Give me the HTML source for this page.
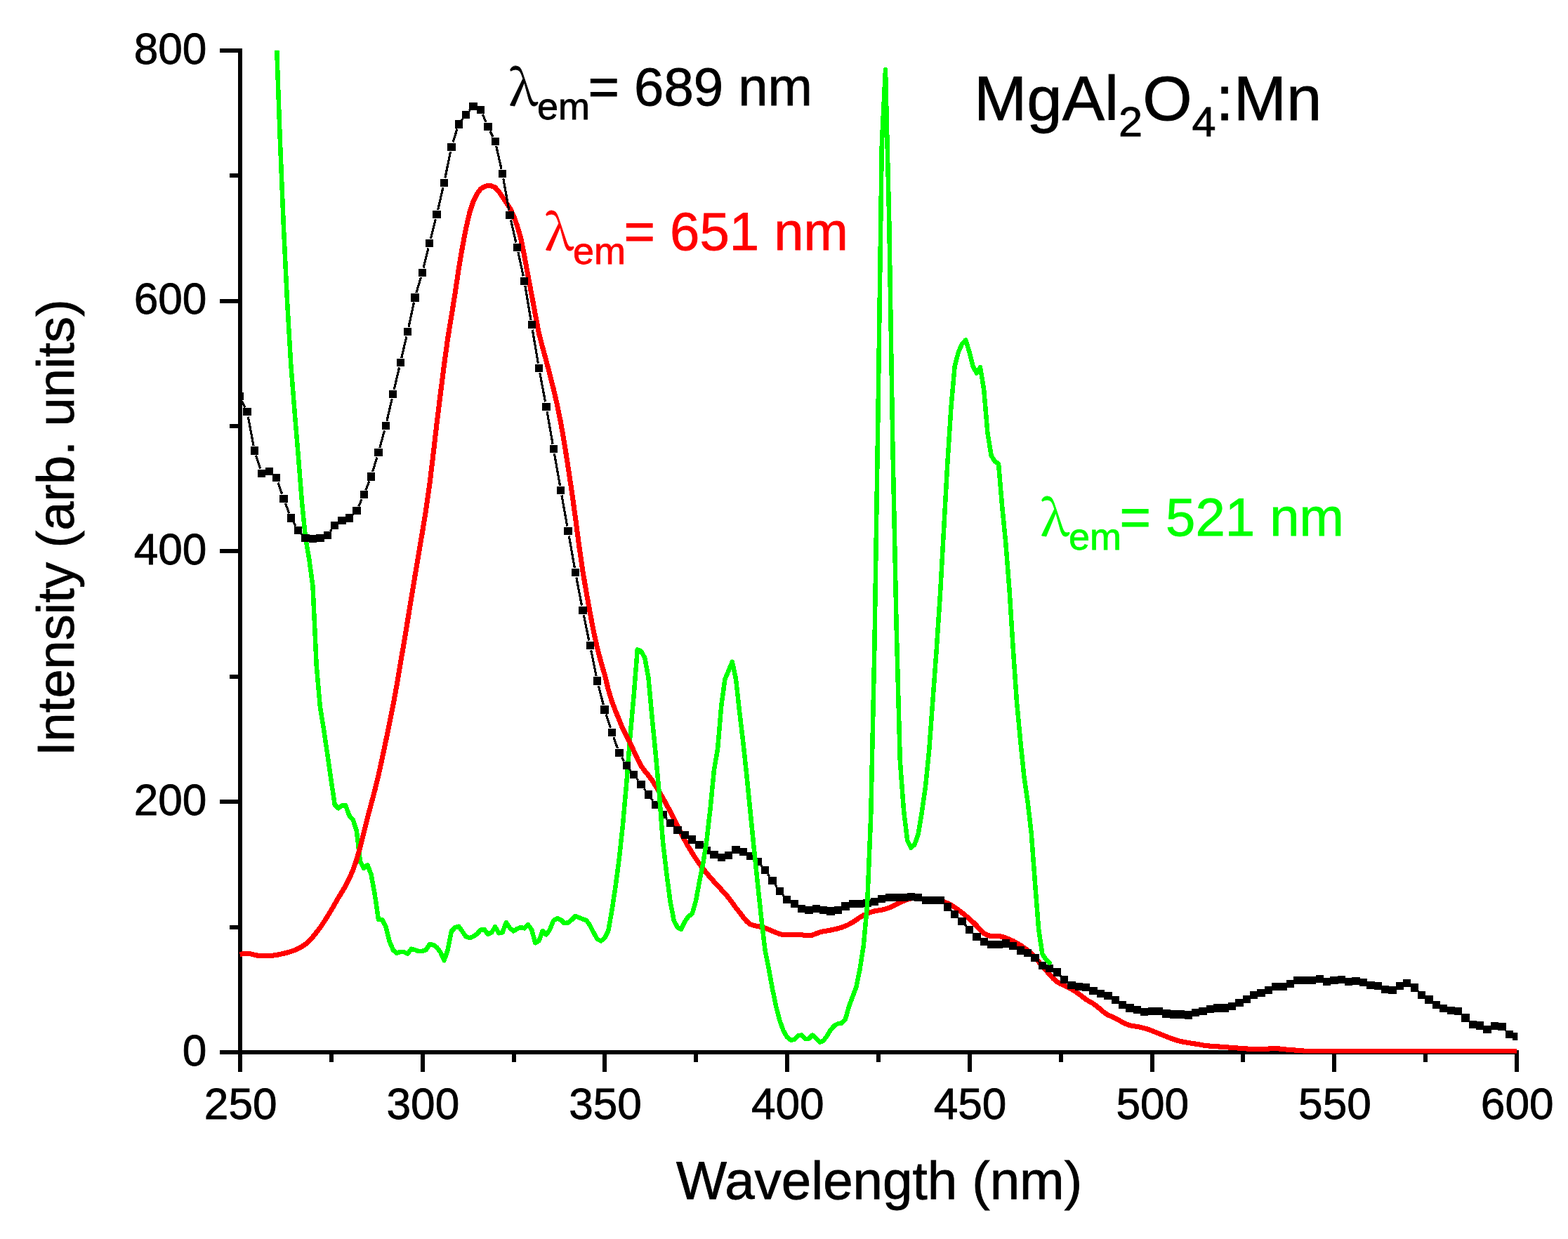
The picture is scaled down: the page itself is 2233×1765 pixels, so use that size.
<!DOCTYPE html>
<html lang="en"><head><meta charset="utf-8"><title>MgAl2O4:Mn excitation spectra</title>
<style>
html,body{margin:0;padding:0;background:#fff;}
body{width:2233px;height:1765px;overflow:hidden;}
svg{display:block;font-family:"Liberation Sans",Arial,sans-serif;}
</style></head><body>
<svg width="2233" height="1765" viewBox="0 0 2233 1765">
<rect width="2233" height="1765" fill="#fff"/>
<defs><clipPath id="plot"><rect x="339" y="71.8" width="1822.3" height="1428.8"/></clipPath></defs>
<g fill="#000" shape-rendering="crispEdges"><rect x="339" y="69" width="6" height="1458"/><rect x="313" y="1496" width="1850" height="6"/><rect x="313" y="1496" width="32" height="6"/><rect x="327" y="1318" width="18" height="6"/><rect x="313" y="1139" width="32" height="6"/><rect x="327" y="961" width="18" height="6"/><rect x="313" y="782" width="32" height="6"/><rect x="327" y="604" width="18" height="6"/><rect x="313" y="426" width="32" height="6"/><rect x="327" y="247" width="18" height="6"/><rect x="313" y="69" width="32" height="6"/><rect x="339" y="1496" width="6" height="31"/><rect x="469" y="1496" width="6" height="17"/><rect x="599" y="1496" width="6" height="31"/><rect x="729" y="1496" width="6" height="17"/><rect x="858" y="1496" width="6" height="31"/><rect x="988" y="1496" width="6" height="17"/><rect x="1118" y="1496" width="6" height="31"/><rect x="1248" y="1496" width="6" height="17"/><rect x="1378" y="1496" width="6" height="31"/><rect x="1508" y="1496" width="6" height="17"/><rect x="1638" y="1496" width="6" height="31"/><rect x="1767" y="1496" width="6" height="17"/><rect x="1897" y="1496" width="6" height="31"/><rect x="2027" y="1496" width="6" height="17"/><rect x="2157" y="1496" width="6" height="31"/></g>
<g clip-path="url(#plot)" fill="none" stroke-linejoin="round" stroke-linecap="butt" shape-rendering="crispEdges">
<path d="M389.3,-40.0 L394.0,65.0 L398.7,196.5 L403.9,323.1 L409.1,430.7 L414.3,519.3 L419.5,585.5 L424.7,648.2 L429.9,714.1 L435.1,766.5 L440.3,796.7 L445.5,835.4 L450.7,947.9 L455.9,1007.2 L461.1,1039.3 L466.3,1074.7 L471.5,1110.7 L476.7,1146.3 L481.8,1151.3 L487.0,1147.4 L492.2,1147.3 L497.4,1161.9 L502.6,1167.4 L507.8,1183.4 L513.0,1227.3 L518.2,1236.9 L523.4,1232.2 L528.6,1245.8 L533.8,1274.6 L539.0,1310.0 L544.2,1310.0 L549.4,1319.8 L554.6,1340.7 L559.8,1353.3 L565.0,1358.0 L570.1,1355.9 L575.3,1356.1 L580.5,1358.6 L585.7,1351.7 L590.9,1353.1 L596.1,1355.1 L601.3,1354.9 L606.5,1353.3 L611.7,1345.4 L616.9,1345.9 L622.1,1349.6 L627.3,1356.6 L632.5,1368.2 L637.7,1352.9 L642.9,1326.6 L648.1,1321.3 L653.3,1319.7 L658.5,1327.0 L663.6,1334.3 L668.8,1336.2 L674.0,1334.1 L679.2,1330.6 L684.4,1324.8 L689.6,1323.9 L694.8,1330.8 L700.0,1328.5 L705.2,1320.3 L710.4,1329.3 L715.6,1328.2 L720.8,1314.1 L726.0,1321.8 L731.2,1326.4 L736.4,1323.1 L741.6,1321.1 L746.8,1322.4 L751.9,1317.2 L757.1,1324.1 L762.3,1343.3 L767.5,1340.3 L772.7,1326.1 L777.9,1331.5 L783.1,1324.2 L788.3,1311.2 L793.5,1308.2 L798.7,1310.3 L803.9,1315.3 L809.1,1314.3 L814.3,1310.2 L819.5,1305.0 L824.7,1307.2 L829.9,1309.4 L835.1,1311.1 L840.3,1318.4 L845.4,1328.6 L850.6,1337.7 L855.8,1340.5 L861.0,1336.4 L866.2,1326.4 L871.4,1297.1 L876.6,1262.5 L881.8,1223.2 L887.0,1174.5 L892.2,1116.2 L897.4,1049.4 L902.6,990.9 L907.8,925.3" stroke="#00ff00" stroke-width="6.5"/>
<path d="M341.6,1359.5 L346.8,1358.5 L352.0,1358.1 L357.2,1358.9 L362.4,1360.3 L367.6,1361.3 L372.8,1361.4 L378.0,1361.4 L383.2,1361.4 L388.3,1361.2 L393.5,1360.5 L398.7,1359.5 L403.9,1358.3 L409.1,1357.0 L414.3,1355.5 L419.5,1353.6 L424.7,1351.2 L429.9,1348.4 L435.1,1345.0 L440.3,1340.4 L445.5,1334.6 L450.7,1328.2 L455.9,1321.4 L461.1,1313.7 L466.3,1305.4 L471.5,1296.9 L476.7,1287.9 L481.8,1279.0 L487.0,1270.6 L492.2,1261.8 L497.4,1251.6 L502.6,1239.6 L507.8,1224.8 L513.0,1206.7 L518.2,1185.7 L523.4,1164.7 L528.6,1145.4 L533.8,1125.9 L539.0,1104.4 L544.2,1080.7 L549.4,1056.0 L554.6,1030.8 L559.8,1004.7 L565.0,976.4 L570.1,946.2 L575.3,915.5 L580.5,884.2 L585.7,852.6 L590.9,820.8 L596.1,789.7 L601.3,759.3 L606.5,727.3 L611.7,691.0 L616.9,647.8 L622.1,602.8 L627.3,560.8 L632.5,519.7 L637.7,482.0 L642.9,450.1 L648.1,417.9 L653.3,382.5 L658.5,352.1 L663.6,325.4 L668.8,302.8 L674.0,286.9 L679.2,276.3 L684.4,269.3 L689.6,265.9 L694.8,264.3 L700.0,264.9 L705.2,267.1 L710.4,272.9 L715.6,280.6 L720.8,288.4 L726.0,296.2 L731.2,307.0 L736.4,321.3 L741.6,338.9 L746.8,364.8 L751.9,392.5 L757.1,419.8 L762.3,447.8 L767.5,474.9 L772.7,494.9 L777.9,514.0 L783.1,533.6 L788.3,554.3 L793.5,576.9 L798.7,602.5 L803.9,632.5 L809.1,665.7 L814.3,700.4 L819.5,737.9 L824.7,777.8 L829.9,813.6 L835.1,844.2 L840.3,873.1 L845.4,899.6 L850.6,923.1 L855.8,943.0 L861.0,960.6 L866.2,981.9 L871.4,999.3 L876.6,1012.8 L881.8,1025.6 L887.0,1038.1 L892.2,1048.1 L897.4,1058.3 L902.6,1069.7 L907.8,1081.1 L913.0,1090.9 L918.2,1098.3 L923.4,1104.5 L928.6,1111.5 L933.7,1119.5 L938.9,1128.1 L944.1,1137.0 L949.3,1146.4 L954.5,1156.1 L959.7,1166.1 L964.9,1176.7 L970.1,1187.3 L975.3,1197.2 L980.5,1206.4 L985.7,1215.0 L990.9,1223.2 L996.1,1230.7 L1001.3,1237.6 L1006.5,1244.1 L1011.7,1250.1 L1016.9,1256.0 L1022.1,1261.7 L1027.2,1267.2 L1032.4,1272.8 L1037.6,1278.9 L1042.8,1285.9 L1048.0,1293.1 L1053.2,1299.7 L1058.4,1306.5 L1063.6,1312.7 L1068.8,1316.8 L1074.0,1318.5 L1079.2,1319.6 L1084.4,1320.5 L1089.6,1322.0 L1094.8,1324.1 L1100.0,1326.5 L1105.2,1328.5 L1110.4,1330.5 L1115.5,1331.6 L1120.7,1331.7 L1125.9,1331.7 L1131.1,1331.7 L1136.3,1331.7 L1141.5,1331.8 L1146.7,1332.3 L1151.9,1332.8 L1157.1,1332.0 L1162.3,1330.0 L1167.5,1328.0 L1172.7,1326.8 L1177.9,1325.9 L1183.1,1325.0 L1188.3,1323.9 L1193.5,1322.6 L1198.7,1321.1 L1203.9,1319.2 L1209.0,1316.8 L1214.2,1313.9 L1219.4,1310.4 L1224.6,1306.8 L1229.8,1303.8 L1235.0,1301.3 L1240.2,1299.3 L1245.4,1297.9 L1250.6,1297.0 L1255.8,1296.1 L1261.0,1294.8 L1266.2,1293.1 L1271.4,1291.0 L1276.6,1288.3 L1281.8,1285.8 L1287.0,1283.3 L1292.2,1281.4 L1297.3,1279.9 L1302.5,1279.1 L1307.7,1279.7 L1312.9,1280.9 L1318.1,1281.7 L1323.3,1282.5 L1328.5,1282.9 L1333.7,1283.2 L1338.9,1283.5 L1344.1,1284.7 L1349.3,1286.6 L1354.5,1289.4 L1359.7,1292.7 L1364.9,1296.3 L1370.1,1300.3 L1375.3,1304.5 L1380.5,1309.0 L1385.7,1313.7 L1390.8,1318.8 L1396.0,1324.7 L1401.2,1329.8 L1406.4,1332.4 L1411.6,1333.6 L1416.8,1333.6 L1422.0,1333.6 L1427.2,1334.3 L1432.4,1336.2 L1437.6,1338.3 L1442.8,1340.6 L1448.0,1343.4 L1453.2,1346.5 L1458.4,1350.1 L1463.6,1354.0 L1468.8,1358.6 L1474.0,1364.0 L1479.1,1369.9 L1484.3,1376.0 L1489.5,1382.1 L1494.7,1388.2 L1499.9,1393.9 L1505.1,1398.6 L1510.3,1401.5 L1515.5,1403.8 L1520.7,1406.4 L1525.9,1409.2 L1531.1,1412.3 L1536.3,1415.8 L1541.5,1419.9 L1546.7,1423.8 L1551.9,1426.9 L1557.1,1429.8 L1562.3,1433.7 L1567.5,1438.2 L1572.6,1442.4 L1577.8,1445.8 L1583.0,1448.1 L1588.2,1450.4 L1593.4,1453.3 L1598.6,1456.3 L1603.8,1458.8 L1609.0,1460.8 L1614.2,1461.7 L1619.4,1462.4 L1624.6,1463.5 L1629.8,1464.8 L1635.0,1466.3 L1640.2,1468.3 L1645.4,1470.3 L1650.6,1472.4 L1655.8,1474.5 L1660.9,1476.5 L1666.1,1478.6 L1671.3,1480.5 L1676.5,1482.2 L1681.7,1483.5 L1686.9,1484.6 L1692.1,1485.5 L1697.3,1486.3 L1702.5,1487.1 L1707.7,1487.9 L1712.9,1488.9 L1718.1,1489.7 L1723.3,1490.1 L1728.5,1490.5 L1733.7,1490.9 L1738.9,1491.2 L1744.1,1491.6 L1749.3,1492.0 L1754.4,1492.4 L1759.6,1492.8 L1764.8,1493.2 L1770.0,1493.6 L1775.2,1494.0 L1780.4,1494.2 L1785.6,1494.4 L1790.8,1494.5 L1796.0,1494.5 L1801.2,1494.3 L1806.4,1494.1 L1811.6,1493.3 L1816.8,1493.3 L1822.0,1494.0 L1827.2,1494.6 L1832.4,1495.1 L1837.6,1495.5 L1842.7,1495.9 L1847.9,1496.3 L1853.1,1496.8 L1858.3,1497.2 L1863.5,1497.6 L1868.7,1497.8 L1873.9,1497.8 L1879.1,1497.8 L1884.3,1497.8 L1889.5,1497.8 L1894.7,1497.8 L1899.9,1497.8 L1905.1,1497.8 L1910.3,1497.8 L1915.5,1497.8 L1920.7,1497.8 L1925.9,1497.8 L1931.1,1497.8 L1936.2,1497.8 L1941.4,1497.8 L1946.6,1497.8 L1951.8,1497.8 L1957.0,1497.8 L1962.2,1497.8 L1967.4,1497.8 L1972.6,1497.8 L1977.8,1497.8 L1983.0,1497.8 L1988.2,1497.8 L1993.4,1497.8 L1998.6,1497.8 L2003.8,1497.8 L2009.0,1497.8 L2014.2,1497.8 L2019.4,1497.8 L2024.5,1497.8 L2029.7,1497.8 L2034.9,1497.8 L2040.1,1497.8 L2045.3,1497.8 L2050.5,1497.8 L2055.7,1497.8 L2060.9,1497.8 L2066.1,1497.8 L2071.3,1497.7 L2076.5,1497.3 L2081.7,1497.2 L2086.9,1497.2 L2092.1,1497.2 L2097.3,1497.2 L2102.5,1497.2 L2107.7,1497.2 L2112.9,1497.2 L2118.0,1497.2 L2123.2,1497.2 L2128.4,1497.3 L2133.6,1497.7 L2138.8,1497.8 L2144.0,1497.8 L2149.2,1497.8 L2154.4,1497.8 L2159.6,1497.8" stroke="#ff0000" stroke-width="7.1"/>
<path d="M344.6,571.2 L349.0,580.5 M353.3,593.7 L361.1,635.0 M364.5,648.6 L370.6,667.5 M395.9,687.4 L401.6,703.7 M406.4,716.9 L411.8,731.3 M417.9,743.9 L421.1,749.4 M429.5,760.5 L430.3,761.4 M470.5,756.7 L472.5,754.0 M502.4,732.9 L502.8,732.5 M510.7,721.2 L515.3,711.1 M520.8,698.3 L526.0,685.4 M530.6,672.2 L536.9,651.4 M540.8,637.9 L547.5,613.3 M550.9,599.7 L558.2,568.3 M561.3,554.7 L568.6,523.5 M571.8,509.9 L578.9,479.4 M582.0,465.7 L589.5,430.7 M592.9,417.1 L599.4,395.0 M603.0,381.5 L610.0,353.6 M613.4,340.0 L620.4,312.4 M623.7,298.8 L630.9,267.1 M633.9,253.4 L641.5,216.0 M645.0,202.5 L651.1,183.5 M657.5,171.3 L659.4,168.8 M668.2,157.9 L669.4,156.6 M687.2,162.7 L692.1,174.0 M697.9,186.7 L702.1,195.1 M706.7,208.2 L714.1,240.7 M716.8,254.4 L724.8,299.6 M727.5,313.3 L734.8,345.6 M737.9,359.2 L745.3,393.4 M747.9,407.1 L756.0,455.9 M758.3,469.7 L766.4,517.6 M768.8,531.4 L776.6,572.4 M779.1,586.2 L787.1,632.5 M789.5,646.3 L797.5,691.7 M799.9,705.5 L807.8,749.6 M810.3,763.4 L818.3,808.8 M820.8,822.6 L828.5,862.6 M831.3,876.3 L838.8,912.6 M841.7,926.4 L849.2,963.2 M852.4,976.8 L859.3,1004.1 M863.2,1017.6 L869.3,1036.8 M873.8,1050.1 L879.5,1066.1 M885.4,1078.7 L888.6,1084.2 M896.5,1095.7 L898.3,1098.0 M906.8,1109.2 L908.8,1111.9 M917.1,1123.2 L919.3,1126.2 M927.4,1137.6 L929.7,1140.7 M937.9,1152.0 L939.9,1154.7 M948.7,1165.6 L949.9,1167.0 M959.5,1177.2 L959.9,1177.6 M1083.7,1232.7 L1085.0,1234.2 M1093.6,1245.3 L1095.9,1248.6 M1103.9,1260.1 L1106.4,1263.8 M1114.9,1274.9 L1116.2,1276.3 M1354.2,1296.9 L1354.8,1297.5 M1374.5,1317.6 L1376.0,1319.3 M1478.8,1369.4 L1479.5,1370.2 M1510.0,1390.0 L1510.6,1390.7 M2019.1,1412.0 L2019.6,1412.6 M2143.6,1467.6 L2144.4,1468.4" stroke="#000" stroke-width="3.2"/>
<g fill="#000" stroke="none" shape-rendering="crispEdges"><rect x="336.0" y="559.2" width="11.3" height="11.2"/><rect x="346.3" y="581.2" width="11.3" height="11.2"/><rect x="356.7" y="636.3" width="11.3" height="11.2"/><rect x="367.1" y="668.6" width="11.3" height="11.2"/><rect x="377.5" y="665.8" width="11.3" height="11.2"/><rect x="387.9" y="675.2" width="11.3" height="11.2"/><rect x="398.3" y="704.7" width="11.3" height="11.2"/><rect x="408.7" y="732.3" width="11.3" height="11.2"/><rect x="419.1" y="749.8" width="11.3" height="11.2"/><rect x="429.4" y="760.9" width="11.3" height="11.2"/><rect x="439.8" y="761.7" width="11.3" height="11.2"/><rect x="450.2" y="760.6" width="11.3" height="11.2"/><rect x="460.6" y="756.7" width="11.3" height="11.2"/><rect x="471.0" y="742.8" width="11.3" height="11.2"/><rect x="481.4" y="735.9" width="11.3" height="11.2"/><rect x="491.8" y="732.3" width="11.3" height="11.2"/><rect x="502.2" y="722.0" width="11.3" height="11.2"/><rect x="512.6" y="699.2" width="11.3" height="11.2"/><rect x="522.9" y="673.3" width="11.3" height="11.2"/><rect x="533.3" y="639.1" width="11.3" height="11.2"/><rect x="543.7" y="601.0" width="11.3" height="11.2"/><rect x="554.1" y="555.9" width="11.3" height="11.2"/><rect x="564.5" y="511.1" width="11.3" height="11.2"/><rect x="574.9" y="466.9" width="11.3" height="11.2"/><rect x="585.3" y="418.3" width="11.3" height="11.2"/><rect x="595.7" y="382.7" width="11.3" height="11.2"/><rect x="606.1" y="341.2" width="11.3" height="11.2"/><rect x="616.4" y="300.0" width="11.3" height="11.2"/><rect x="626.8" y="254.7" width="11.3" height="11.2"/><rect x="637.2" y="203.5" width="11.3" height="11.2"/><rect x="647.6" y="171.3" width="11.3" height="11.2"/><rect x="658.0" y="157.6" width="11.3" height="11.2"/><rect x="668.4" y="145.7" width="11.3" height="11.2"/><rect x="678.8" y="150.7" width="11.3" height="11.2"/><rect x="689.2" y="174.9" width="11.3" height="11.2"/><rect x="699.6" y="195.7" width="11.3" height="11.2"/><rect x="709.9" y="241.9" width="11.3" height="11.2"/><rect x="720.3" y="300.9" width="11.3" height="11.2"/><rect x="730.7" y="346.8" width="11.3" height="11.2"/><rect x="741.1" y="394.6" width="11.3" height="11.2"/><rect x="751.5" y="457.2" width="11.3" height="11.2"/><rect x="761.9" y="518.9" width="11.3" height="11.2"/><rect x="772.3" y="573.7" width="11.3" height="11.2"/><rect x="782.7" y="633.8" width="11.3" height="11.2"/><rect x="793.0" y="693.0" width="11.3" height="11.2"/><rect x="803.4" y="750.9" width="11.3" height="11.2"/><rect x="813.8" y="810.1" width="11.3" height="11.2"/><rect x="824.2" y="863.8" width="11.3" height="11.2"/><rect x="834.6" y="913.9" width="11.3" height="11.2"/><rect x="845.0" y="964.4" width="11.3" height="11.2"/><rect x="855.4" y="1005.3" width="11.3" height="11.2"/><rect x="865.8" y="1037.9" width="11.3" height="11.2"/><rect x="876.2" y="1067.1" width="11.3" height="11.2"/><rect x="886.5" y="1084.6" width="11.3" height="11.2"/><rect x="896.9" y="1098.0" width="11.3" height="11.2"/><rect x="907.3" y="1111.9" width="11.3" height="11.2"/><rect x="917.7" y="1126.3" width="11.3" height="11.2"/><rect x="928.1" y="1140.8" width="11.3" height="11.2"/><rect x="938.5" y="1154.7" width="11.3" height="11.2"/><rect x="948.9" y="1166.7" width="11.3" height="11.2"/><rect x="959.3" y="1177.0" width="11.3" height="11.2"/><rect x="969.7" y="1184.2" width="11.3" height="11.2"/><rect x="980.0" y="1190.3" width="11.3" height="11.2"/><rect x="990.4" y="1197.5" width="11.3" height="11.2"/><rect x="1000.8" y="1205.6" width="11.3" height="11.2"/><rect x="1011.2" y="1212.0" width="11.3" height="11.2"/><rect x="1021.6" y="1216.2" width="11.3" height="11.2"/><rect x="1032.0" y="1212.6" width="11.3" height="11.2"/><rect x="1042.4" y="1204.8" width="11.3" height="11.2"/><rect x="1052.8" y="1207.8" width="11.3" height="11.2"/><rect x="1063.1" y="1214.0" width="11.3" height="11.2"/><rect x="1073.5" y="1221.7" width="11.3" height="11.2"/><rect x="1083.9" y="1234.0" width="11.3" height="11.2"/><rect x="1094.3" y="1248.7" width="11.3" height="11.2"/><rect x="1104.7" y="1264.0" width="11.3" height="11.2"/><rect x="1115.1" y="1276.0" width="11.3" height="11.2"/><rect x="1125.5" y="1282.1" width="11.3" height="11.2"/><rect x="1135.9" y="1289.1" width="11.3" height="11.2"/><rect x="1146.3" y="1290.5" width="11.3" height="11.2"/><rect x="1156.6" y="1289.1" width="11.3" height="11.2"/><rect x="1167.0" y="1290.5" width="11.3" height="11.2"/><rect x="1177.4" y="1292.4" width="11.3" height="11.2"/><rect x="1187.8" y="1290.5" width="11.3" height="11.2"/><rect x="1198.2" y="1285.4" width="11.3" height="11.2"/><rect x="1208.6" y="1282.1" width="11.3" height="11.2"/><rect x="1219.0" y="1281.5" width="11.3" height="11.2"/><rect x="1229.4" y="1280.7" width="11.3" height="11.2"/><rect x="1239.8" y="1278.5" width="11.3" height="11.2"/><rect x="1250.1" y="1275.2" width="11.3" height="11.2"/><rect x="1260.5" y="1272.9" width="11.3" height="11.2"/><rect x="1270.9" y="1272.9" width="11.3" height="11.2"/><rect x="1281.3" y="1272.9" width="11.3" height="11.2"/><rect x="1291.7" y="1271.5" width="11.3" height="11.2"/><rect x="1302.1" y="1272.9" width="11.3" height="11.2"/><rect x="1312.5" y="1277.1" width="11.3" height="11.2"/><rect x="1322.9" y="1277.1" width="11.3" height="11.2"/><rect x="1333.3" y="1277.1" width="11.3" height="11.2"/><rect x="1343.6" y="1286.3" width="11.3" height="11.2"/><rect x="1354.0" y="1296.8" width="11.3" height="11.2"/><rect x="1364.4" y="1306.6" width="11.3" height="11.2"/><rect x="1374.8" y="1319.1" width="11.3" height="11.2"/><rect x="1385.2" y="1328.6" width="11.3" height="11.2"/><rect x="1395.6" y="1335.8" width="11.3" height="11.2"/><rect x="1406.0" y="1340.0" width="11.3" height="11.2"/><rect x="1416.4" y="1340.0" width="11.3" height="11.2"/><rect x="1426.8" y="1338.3" width="11.3" height="11.2"/><rect x="1437.1" y="1341.8" width="11.3" height="11.2"/><rect x="1447.5" y="1348.3" width="11.3" height="11.2"/><rect x="1457.9" y="1351.9" width="11.3" height="11.2"/><rect x="1468.3" y="1358.7" width="11.3" height="11.2"/><rect x="1478.7" y="1369.7" width="11.3" height="11.2"/><rect x="1489.1" y="1374.0" width="11.3" height="11.2"/><rect x="1499.5" y="1379.3" width="11.3" height="11.2"/><rect x="1509.9" y="1390.1" width="11.3" height="11.2"/><rect x="1520.2" y="1397.5" width="11.3" height="11.2"/><rect x="1530.6" y="1399.9" width="11.3" height="11.2"/><rect x="1541.0" y="1401.2" width="11.3" height="11.2"/><rect x="1551.4" y="1406.1" width="11.3" height="11.2"/><rect x="1561.8" y="1409.8" width="11.3" height="11.2"/><rect x="1572.2" y="1413.1" width="11.3" height="11.2"/><rect x="1582.6" y="1418.7" width="11.3" height="11.2"/><rect x="1593.0" y="1425.9" width="11.3" height="11.2"/><rect x="1603.4" y="1430.4" width="11.3" height="11.2"/><rect x="1613.7" y="1433.2" width="11.3" height="11.2"/><rect x="1624.1" y="1435.8" width="11.3" height="11.2"/><rect x="1634.5" y="1434.7" width="11.3" height="11.2"/><rect x="1644.9" y="1434.7" width="11.3" height="11.2"/><rect x="1655.3" y="1438.4" width="11.3" height="11.2"/><rect x="1665.7" y="1439.3" width="11.3" height="11.2"/><rect x="1676.1" y="1439.3" width="11.3" height="11.2"/><rect x="1686.5" y="1440.4" width="11.3" height="11.2"/><rect x="1696.9" y="1436.7" width="11.3" height="11.2"/><rect x="1707.2" y="1434.7" width="11.3" height="11.2"/><rect x="1717.6" y="1432.1" width="11.3" height="11.2"/><rect x="1728.0" y="1430.4" width="11.3" height="11.2"/><rect x="1738.4" y="1430.4" width="11.3" height="11.2"/><rect x="1748.8" y="1428.0" width="11.3" height="11.2"/><rect x="1759.2" y="1422.8" width="11.3" height="11.2"/><rect x="1769.6" y="1417.8" width="11.3" height="11.2"/><rect x="1780.0" y="1411.6" width="11.3" height="11.2"/><rect x="1790.3" y="1408.9" width="11.3" height="11.2"/><rect x="1800.7" y="1404.8" width="11.3" height="11.2"/><rect x="1811.1" y="1399.9" width="11.3" height="11.2"/><rect x="1821.5" y="1399.9" width="11.3" height="11.2"/><rect x="1831.9" y="1396.2" width="11.3" height="11.2"/><rect x="1842.3" y="1390.9" width="11.3" height="11.2"/><rect x="1852.7" y="1390.9" width="11.3" height="11.2"/><rect x="1863.1" y="1390.9" width="11.3" height="11.2"/><rect x="1873.5" y="1388.6" width="11.3" height="11.2"/><rect x="1883.8" y="1392.5" width="11.3" height="11.2"/><rect x="1894.2" y="1391.2" width="11.3" height="11.2"/><rect x="1904.6" y="1389.7" width="11.3" height="11.2"/><rect x="1915.0" y="1392.7" width="11.3" height="11.2"/><rect x="1925.4" y="1392.0" width="11.3" height="11.2"/><rect x="1935.8" y="1393.8" width="11.3" height="11.2"/><rect x="1946.2" y="1397.5" width="11.3" height="11.2"/><rect x="1956.6" y="1398.6" width="11.3" height="11.2"/><rect x="1967.0" y="1403.8" width="11.3" height="11.2"/><rect x="1977.3" y="1405.0" width="11.3" height="11.2"/><rect x="1987.7" y="1399.0" width="11.3" height="11.2"/><rect x="1998.1" y="1395.1" width="11.3" height="11.2"/><rect x="2008.5" y="1401.4" width="11.3" height="11.2"/><rect x="2018.9" y="1412.0" width="11.3" height="11.2"/><rect x="2029.3" y="1418.3" width="11.3" height="11.2"/><rect x="2039.7" y="1425.9" width="11.3" height="11.2"/><rect x="2050.1" y="1430.9" width="11.3" height="11.2"/><rect x="2060.5" y="1433.9" width="11.3" height="11.2"/><rect x="2070.8" y="1434.8" width="11.3" height="11.2"/><rect x="2081.2" y="1444.3" width="11.3" height="11.2"/><rect x="2091.6" y="1454.0" width="11.3" height="11.2"/><rect x="2102.0" y="1455.3" width="11.3" height="11.2"/><rect x="2112.4" y="1460.8" width="11.3" height="11.2"/><rect x="2122.8" y="1455.8" width="11.3" height="11.2"/><rect x="2133.2" y="1456.9" width="11.3" height="11.2"/><rect x="2143.6" y="1467.9" width="11.3" height="11.2"/><rect x="2153.9" y="1471.0" width="11.3" height="11.2"/></g>
<path d="M907.8,925.3 L913.0,927.8 L918.2,936.9 L923.4,965.2 L928.6,1022.1 L933.7,1073.9 L938.9,1131.6 L944.1,1200.0 L949.3,1244.3 L954.5,1284.0 L959.7,1311.4 L964.9,1321.2 L970.1,1323.7 L975.3,1312.6 L980.5,1305.5 L985.7,1301.6 L990.9,1283.8 L996.1,1255.6 L1001.3,1229.9 L1006.5,1196.4 L1011.7,1150.5 L1016.9,1097.3 L1022.1,1066.4 L1027.2,1005.9 L1032.4,967.7 L1037.6,955.4 L1042.8,942.8 L1048.0,967.3 L1053.2,1014.3 L1058.4,1058.2 L1063.6,1106.8 L1068.8,1159.0 L1074.0,1211.0 L1079.2,1260.8 L1084.4,1309.7 L1089.6,1354.4 L1094.8,1380.2 L1100.0,1408.6 L1105.2,1433.9 L1110.4,1453.8 L1115.5,1467.8 L1120.7,1477.3 L1125.9,1481.4 L1131.1,1481.1 L1136.3,1475.6 L1141.5,1474.4 L1146.7,1479.9 L1151.9,1479.7 L1157.1,1474.5 L1162.3,1479.1 L1167.5,1484.7 L1172.7,1482.5 L1177.9,1475.5 L1183.1,1466.8 L1188.3,1461.0 L1193.5,1458.3 L1198.7,1457.4 L1203.9,1452.0 L1209.0,1433.8 L1214.2,1419.8 L1219.4,1406.2 L1224.6,1380.5 L1229.8,1346.9 L1235.0,1290.0 L1240.2,1163.1 L1245.4,921.4 L1250.6,579.8 L1255.8,205.2 L1261.0,99.3 L1266.2,311.2 L1271.4,637.6 L1276.6,891.6 L1281.8,1084.2 L1287.0,1154.3 L1292.2,1197.3 L1297.3,1207.7 L1302.5,1203.1 L1307.7,1188.2 L1312.9,1156.8 L1318.1,1119.9 L1323.3,1067.5 L1328.5,996.5 L1333.7,925.8 L1338.9,847.0 L1344.1,754.4 L1349.3,660.4 L1354.5,579.8 L1359.7,521.3 L1364.9,501.7 L1370.1,489.6 L1375.3,484.3 L1380.5,501.5 L1385.7,521.9 L1390.8,531.6 L1396.0,523.2 L1401.2,555.1 L1406.4,616.4 L1411.6,648.8 L1416.8,657.4 L1422.0,660.6 L1427.2,721.6 L1432.4,774.7 L1437.6,841.4 L1442.8,924.7 L1448.0,1000.1 L1453.2,1055.2 L1458.4,1106.4 L1463.6,1142.5 L1468.8,1187.5 L1474.0,1257.5 L1479.1,1323.0 L1484.3,1358.7 L1489.5,1366.9 L1494.7,1371.6" stroke="#00ff00" stroke-width="6.5" stroke-linecap="round"/>
</g>
<g fill="#000" stroke="#000" stroke-width="0.8" font-size="62.2"><text x="342.7" y="1594.3" text-anchor="middle">250</text><text x="602.4" y="1594.3" text-anchor="middle">300</text><text x="862.1" y="1594.3" text-anchor="middle">350</text><text x="1121.8" y="1594.3" text-anchor="middle">400</text><text x="1381.6" y="1594.3" text-anchor="middle">450</text><text x="1641.3" y="1594.3" text-anchor="middle">500</text><text x="1901.0" y="1594.3" text-anchor="middle">550</text><text x="2160.7" y="1594.3" text-anchor="middle">600</text><text x="294.4" y="1517.6" text-anchor="end">0</text><text x="294.4" y="1160.8" text-anchor="end">200</text><text x="294.4" y="804.1" text-anchor="end">400</text><text x="294.4" y="447.4" text-anchor="end">600</text><text x="294.4" y="90.6" text-anchor="end">800</text></g>
<text x="963" y="1707.5" font-size="76.3" fill="#000" stroke="#000" stroke-width="0.8">Wavelength (nm)</text>
<text transform="translate(104.8,1077) rotate(-90)" font-size="74.1" fill="#000" stroke="#000" stroke-width="0.8">Intensity (arb. units)</text>
<text x="725" y="150" fill="#000" stroke="#000" stroke-width="0.8" font-size="76.1"><tspan font-family="'Noto Serif CJK SC','Liberation Serif',serif" font-size="70">λ</tspan><tspan x="765" dy="19.5" font-size="54">em</tspan><tspan x="837.5" dy="-19.5">= 689 nm</tspan></text>
<text x="776" y="356" fill="#ff0000" stroke="#ff0000" stroke-width="0.8" font-size="76.1"><tspan font-family="'Noto Serif CJK SC','Liberation Serif',serif" font-size="70">λ</tspan><tspan x="816" dy="19.5" font-size="54">em</tspan><tspan x="888.5" dy="-19.5">= 651 nm</tspan></text>
<text x="1482" y="763" fill="#00ff00" stroke="#00ff00" stroke-width="0.8" font-size="76.1"><tspan font-family="'Noto Serif CJK SC','Liberation Serif',serif" font-size="70">λ</tspan><tspan x="1522" dy="19.5" font-size="54">em</tspan><tspan x="1594.5" dy="-19.5">= 521 nm</tspan></text>
<text transform="translate(1387,171.3) scale(1.022,1)" font-size="88.5" fill="#000" stroke="#000" stroke-width="0.8">MgAl<tspan dy="22.5" font-size="60">2</tspan><tspan dy="-22.5">O</tspan><tspan dy="22.5" font-size="60">4</tspan><tspan dy="-22.5">:Mn</tspan></text>
</svg>
</body></html>
